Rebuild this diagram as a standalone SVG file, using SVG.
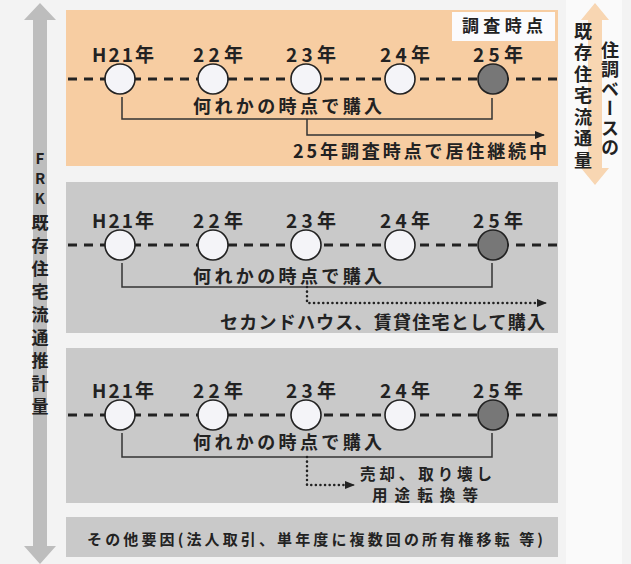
<svg xmlns="http://www.w3.org/2000/svg" width="631" height="564" viewBox="0 0 631 564">
<defs>
<style>
text{font-family:"Noto Sans CJK JP","Noto Sans",sans-serif;fill:#222;font-weight:bold}
.yr{font-size:19px}
.main{font-size:18px}
.tl{stroke:#222;stroke-width:3;stroke-dasharray:9 7;fill:none}
.c{fill:#f4f4f8;stroke:#222;stroke-width:1.6}
.cd{fill:#777;stroke:#222;stroke-width:1.6}
.br{fill:none;stroke:#333;stroke-width:1.5}
.dot{fill:none;stroke:#222;stroke-width:2.5;stroke-dasharray:0.1 4.5;stroke-linecap:round}
.vt{font-size:17px;text-anchor:middle}
.lat{font-size:15px}
</style>
<marker id="ah" markerWidth="10" markerHeight="8" refX="9" refY="4" orient="auto" markerUnits="userSpaceOnUse">
<path d="M0,0 L10,4 L0,8 Z" fill="#222"/>
</marker>
</defs>
<rect width="631" height="564" fill="#f3f3f3"/>
<rect x="566" y="0" width="56" height="564" fill="#fafafa"/>

<g id="left-arrow">
<path d="M40,3 L56,20 L47,20 L47,546 L56,546 L40,564 L24,546 L33,546 L33,20 L24,20 Z" fill="#bdbdbd"/>
<text class="vt"><tspan class="lat" x="40" y="164">F</tspan><tspan class="lat" x="40" y="184">R</tspan><tspan class="lat" x="40" y="204">K</tspan><tspan x="40" y="229">既</tspan><tspan x="40" y="252">存</tspan><tspan x="40" y="275">住</tspan><tspan x="40" y="298">宅</tspan><tspan x="40" y="321">流</tspan><tspan x="40" y="344">通</tspan><tspan x="40" y="367">推</tspan><tspan x="40" y="390">計</tspan><tspan x="40" y="413">量</tspan></text>
</g>

<g id="right-arrow">
<path d="M595,3 L609,20 L602,20 L602,168 L609,168 L595,185 L581,168 L588,168 L588,20 L581,20 Z" fill="#f7cfa4" opacity="0.85"/>
<text x="583" y="22" font-size="18" writing-mode="vertical-rl" letter-spacing="3.5" style="writing-mode:vertical-rl">既存住宅流通量</text>
<text x="610" y="41" font-size="18" writing-mode="vertical-rl" letter-spacing="1.5" style="writing-mode:vertical-rl">住調ベースの</text>
</g>

<g id="panel1">
<rect x="66" y="10" width="492" height="156" fill="#f7cda2"/>
<rect x="452" y="12" width="103" height="29" fill="#fbfbfd"/>
<text x="462" y="32" font-size="17" textLength="81" lengthAdjust="spacing">調査時点</text>
<line class="tl" x1="68" y1="79" x2="557" y2="79"/>
<circle class="c" cx="120" cy="79" r="15"/><circle class="c" cx="213" cy="79" r="15"/><circle class="c" cx="306" cy="79" r="15"/><circle class="c" cx="400" cy="79" r="15"/><circle class="cd" cx="493" cy="79" r="15"/>
<text class="yr" x="92" y="62" textLength="62" lengthAdjust="spacing">H21年</text>
<text class="yr" x="193" y="62" textLength="50" lengthAdjust="spacing">22年</text>
<text class="yr" x="286" y="62" textLength="50" lengthAdjust="spacing">23年</text>
<text class="yr" x="380" y="62" textLength="50" lengthAdjust="spacing">24年</text>
<text class="yr" x="473" y="62" textLength="50" lengthAdjust="spacing">25年</text>
<text class="main" x="193" y="113" textLength="189" lengthAdjust="spacing">何れかの時点で購入</text>
<text class="main" x="293" y="158" textLength="254" lengthAdjust="spacing">25年調査時点で居住継続中</text>
</g>

<g id="panel2">
<rect x="66" y="182" width="492" height="151" fill="#c9c9c9"/>
<line class="tl" x1="68" y1="245" x2="557" y2="245"/>
<circle class="c" cx="120" cy="245" r="15"/><circle class="c" cx="213" cy="245" r="15"/><circle class="c" cx="306" cy="245" r="15"/><circle class="c" cx="400" cy="245" r="15"/><circle class="cd" cx="493" cy="245" r="15"/>
<text class="yr" x="92" y="228" textLength="62" lengthAdjust="spacing">H21年</text>
<text class="yr" x="193" y="228" textLength="50" lengthAdjust="spacing">22年</text>
<text class="yr" x="286" y="228" textLength="50" lengthAdjust="spacing">23年</text>
<text class="yr" x="380" y="228" textLength="50" lengthAdjust="spacing">24年</text>
<text class="yr" x="473" y="228" textLength="50" lengthAdjust="spacing">25年</text>
<text class="main" x="193" y="283" textLength="189" lengthAdjust="spacing">何れかの時点で購入</text>
<text class="main" x="220" y="329" textLength="325" lengthAdjust="spacing">セカンドハウス、賃貸住宅として購入</text>
</g>

<g id="panel3">
<rect x="66" y="348" width="492" height="155" fill="#c9c9c9"/>
<line class="tl" x1="68" y1="415" x2="557" y2="415"/>
<circle class="c" cx="120" cy="415" r="15"/><circle class="c" cx="213" cy="415" r="15"/><circle class="c" cx="306" cy="415" r="15"/><circle class="c" cx="400" cy="415" r="15"/><circle class="cd" cx="493" cy="415" r="15"/>
<text class="yr" x="92" y="398" textLength="62" lengthAdjust="spacing">H21年</text>
<text class="yr" x="193" y="398" textLength="50" lengthAdjust="spacing">22年</text>
<text class="yr" x="286" y="398" textLength="50" lengthAdjust="spacing">23年</text>
<text class="yr" x="380" y="398" textLength="50" lengthAdjust="spacing">24年</text>
<text class="yr" x="473" y="398" textLength="50" lengthAdjust="spacing">25年</text>
<text class="main" x="193" y="449" textLength="189" lengthAdjust="spacing">何れかの時点で購入</text>
<text x="360" y="480" font-size="15.5" textLength="132" lengthAdjust="spacing">売却、取り壊し</text>
<text x="372" y="501" font-size="15.5" textLength="106" lengthAdjust="spacing">用途転換等</text>
</g>

<g id="panel4">
<rect x="66" y="517" width="492" height="40" fill="#c9c9c9"/>
<text x="87" y="545" font-size="15" textLength="456" lengthAdjust="spacing">その他要因(法人取引、単年度に複数回の所有権移転 等)</text>
</g>

<g id="connectors">
<path class="br" d="M122,97 V119 H492 V98"/>
<path class="br" d="M307,119 V135 H544" marker-end="url(#ah)"/>
<path class="br" d="M122,263 V287 H492 V263"/>
<path class="dot" d="M307,287 V303 H538"/>
<line x1="537" y1="303" x2="546" y2="303" stroke="#222" stroke-width="1" marker-end="url(#ah)"/>
<path class="br" d="M122,433 V457 H492 V433"/>
<path class="dot" d="M307,457 V485 H346"/>
<line x1="345" y1="485" x2="354" y2="485" stroke="#222" stroke-width="1" marker-end="url(#ah)"/>
</g>
</svg>
